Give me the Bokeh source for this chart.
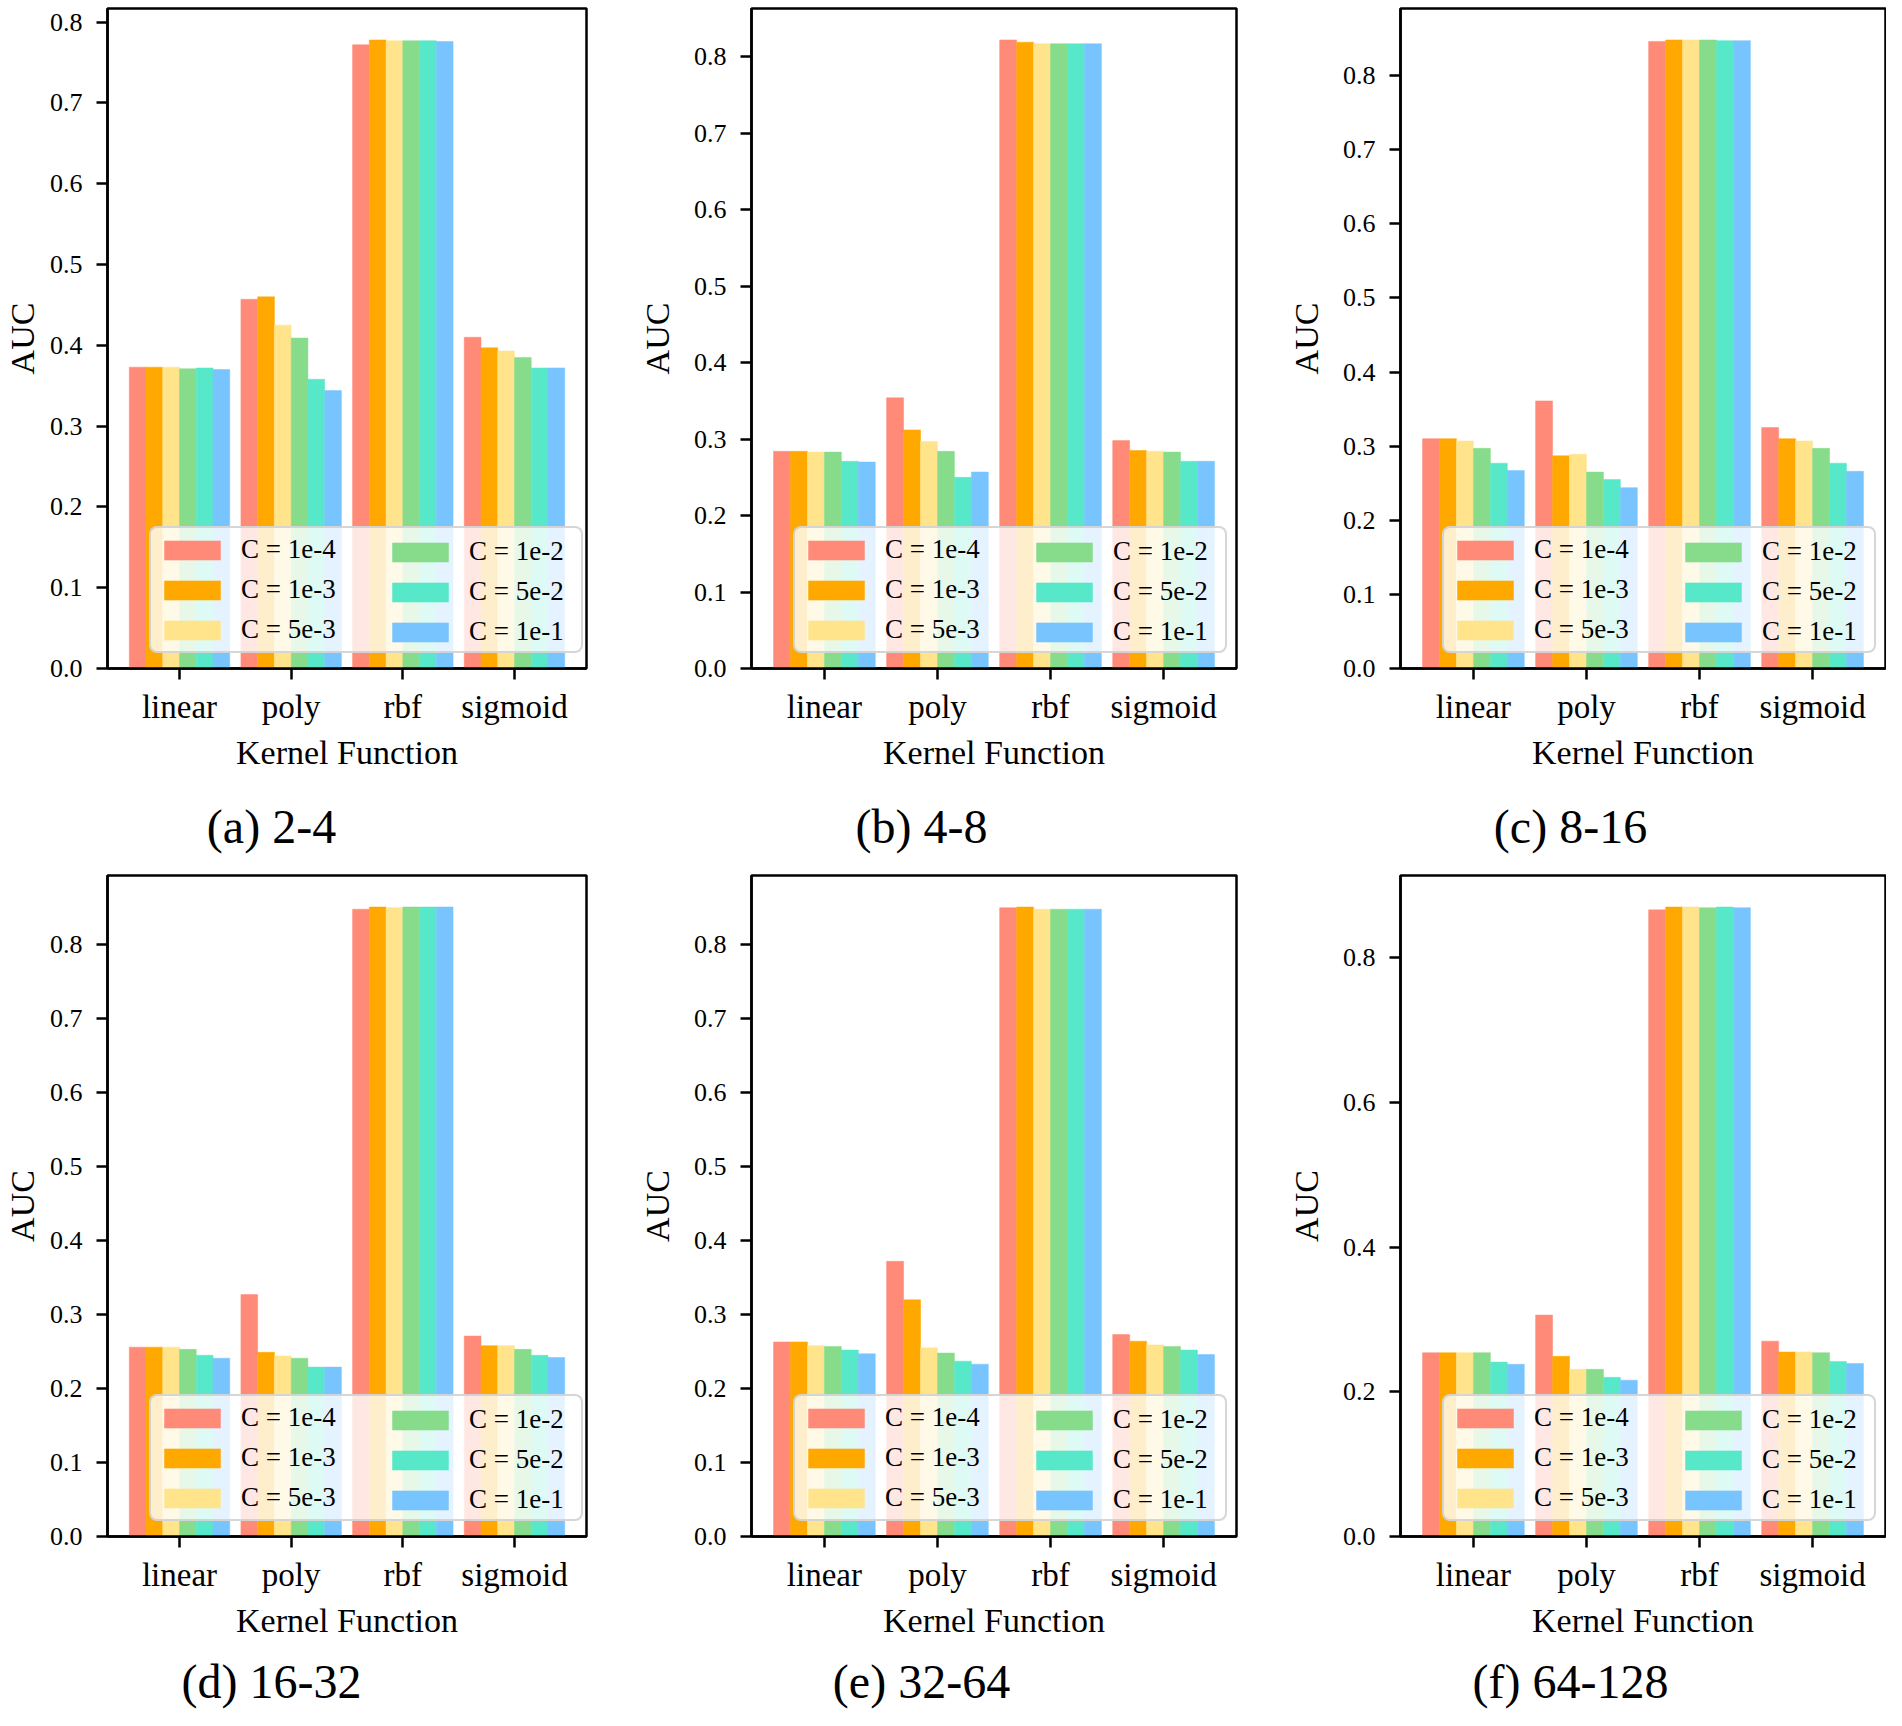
from bokeh.plotting import figure
from bokeh.layouts import column, row
from bokeh.models import Range1d, FixedTicker, PrintfTickFormatter, Label, Legend, LegendItem
from bokeh.embed import file_html
from bokeh.resources import INLINE

FONT = "Liberation Serif"

kernels = ["linear", "poly", "rbf", "sigmoid"]
c_labels = ["C = 1e-4", "C = 1e-3", "C = 5e-3", "C = 1e-2", "C = 5e-2", "C = 1e-1"]
colors = ["#FF8A78", "#FFA800", "#FFE48C", "#86DC8A", "#56E8C8", "#78C4FF"]

captions = ["(a) 2-4", "(b) 4-8", "(c) 8-16", "(d) 16-32", "(e) 32-64", "(f) 64-128"]

# AUC per kernel (rows: linear, poly, rbf, sigmoid), per C value (columns)
auc_2_4 = [
    [0.373, 0.373, 0.373, 0.371, 0.372, 0.370],
    [0.457, 0.460, 0.425, 0.409, 0.358, 0.344],
    [0.772, 0.778, 0.777, 0.777, 0.777, 0.776],
    [0.410, 0.397, 0.393, 0.385, 0.372, 0.372],
]
auc_4_8 = [
    [0.284, 0.284, 0.283, 0.283, 0.271, 0.270],
    [0.354, 0.312, 0.297, 0.284, 0.250, 0.257],
    [0.822, 0.819, 0.817, 0.817, 0.817, 0.817],
    [0.298, 0.285, 0.284, 0.283, 0.271, 0.271],
]
auc_8_16 = [
    [0.310, 0.310, 0.307, 0.297, 0.277, 0.267],
    [0.361, 0.287, 0.289, 0.265, 0.255, 0.244],
    [0.846, 0.848, 0.848, 0.848, 0.847, 0.847],
    [0.325, 0.310, 0.307, 0.297, 0.277, 0.266],
]
auc_16_32 = [
    [0.256, 0.256, 0.256, 0.253, 0.245, 0.241],
    [0.327, 0.249, 0.244, 0.241, 0.229, 0.229],
    [0.848, 0.851, 0.850, 0.851, 0.851, 0.851],
    [0.271, 0.258, 0.258, 0.253, 0.245, 0.242],
]
auc_32_64 = [
    [0.263, 0.263, 0.258, 0.257, 0.252, 0.247],
    [0.372, 0.320, 0.255, 0.248, 0.237, 0.233],
    [0.850, 0.851, 0.848, 0.848, 0.848, 0.848],
    [0.273, 0.264, 0.259, 0.257, 0.252, 0.246],
]
auc_64_128 = [
    [0.254, 0.254, 0.254, 0.254, 0.241, 0.238],
    [0.306, 0.249, 0.231, 0.231, 0.220, 0.216],
    [0.866, 0.870, 0.870, 0.869, 0.870, 0.869],
    [0.270, 0.255, 0.255, 0.254, 0.242, 0.239],
]

yticks_01 = [0.0, 0.1, 0.2, 0.3, 0.4, 0.5, 0.6, 0.7, 0.8]
yticks_02 = [0.0, 0.2, 0.4, 0.6, 0.8]

BAR_W = 0.15


def style_legend(leg, label_width, boxed):
    leg.padding = 6
    leg.spacing = 9
    leg.margin = 0
    leg.glyph_width = 70
    leg.glyph_height = 24
    leg.label_standoff = 14
    leg.label_width = label_width
    leg.label_text_font = FONT
    leg.label_text_font_size = "27px"
    leg.label_text_color = "black"
    leg.background_fill_color = "white"
    leg.border_line_color = "#cccccc"
    leg.border_line_width = 2
    if "border_radius" in Legend.properties():
        leg.border_radius = 8
    if boxed:
        leg.background_fill_alpha = 0.8
        leg.border_line_alpha = 0.8
    else:
        leg.background_fill_alpha = 0.0
        leg.border_line_alpha = 0.0


def make_panel(values, yticks, width, height, bl, br, bt, bb, ylab_standoff):
    n = len(c_labels)
    lo = -n / 2 * BAR_W
    hi = (len(kernels) - 1) + n / 2 * BAR_W
    pad = 0.05 * (hi - lo)
    ymax = max(max(r) for r in values)
    p = figure(width=width, height=height,
               x_range=Range1d(lo - pad, hi + pad),
               y_range=Range1d(0, 1.05 * ymax),
               output_backend="svg", toolbar_location=None,
               min_border_left=bl, min_border_right=br,
               min_border_top=bt, min_border_bottom=bb)
    p.background_fill_color = "white"
    p.border_fill_color = "white"
    p.xgrid.visible = False
    p.ygrid.visible = False
    p.outline_line_color = "black"
    p.outline_line_width = 2.5
    p.outline_line_alpha = 1.0

    renderers = []
    for j in range(n):
        xs = [k + (j - (n - 1) / 2) * BAR_W for k in range(len(kernels))]
        tops = [values[k][j] for k in range(len(kernels))]
        r = p.vbar(x=xs, top=tops, bottom=0, width=BAR_W, fill_color=colors[j],
                   line_color=colors[j], line_width=0.5)
        renderers.append(r)

    for ax in (p.xaxis, p.yaxis):
        ax.axis_line_color = "black"
        ax.axis_line_width = 2.5
        ax.major_tick_line_color = "black"
        ax.major_tick_line_width = 2.5
        ax.major_tick_out = 11
        ax.major_tick_in = 0
        ax.minor_tick_line_color = None
        ax.axis_label_text_font = FONT
        ax.axis_label_text_font_style = "normal"
        ax.axis_label_text_font_size = "34px"
        ax.axis_label_text_color = "black"
        ax.major_label_text_font = FONT
        ax.major_label_text_color = "black"

    p.xaxis.ticker = FixedTicker(ticks=list(range(len(kernels))))
    p.xaxis.major_label_overrides = {i: k for i, k in enumerate(kernels)}
    p.xaxis.major_label_text_font_size = "33px"
    p.xaxis.major_label_standoff = 9
    p.xaxis.axis_label = "Kernel Function"
    p.xaxis.axis_label_standoff = 6

    p.yaxis.ticker = FixedTicker(ticks=yticks)
    p.yaxis.formatter = PrintfTickFormatter(format="%.1f")
    p.yaxis.major_label_text_font_size = "26px"
    p.yaxis.major_label_standoff = 14
    p.yaxis.axis_label = "AUC"
    p.yaxis.axis_label_standoff = ylab_standoff

    half = n // 2
    leg_a = Legend(items=[LegendItem(label=c_labels[j], renderers=[renderers[j]]) for j in range(half)],
                   location=(42, 15))
    style_legend(leg_a, 334, True)
    leg_b = Legend(items=[LegendItem(label=c_labels[j], renderers=[renderers[j]]) for j in range(half, n)],
                   location=(272, 15))
    style_legend(leg_b, 97, False)
    p.add_layout(leg_a, "center")
    p.add_layout(leg_b, "center")
    return p


def make_caption(text, width, height, cx, base):
    q = figure(width=width, height=height, x_range=Range1d(0, width), y_range=Range1d(0, height),
               x_axis_type=None, y_axis_type=None, output_backend="svg", toolbar_location=None,
               min_border_left=0, min_border_right=0, min_border_top=0, min_border_bottom=0)
    q.outline_line_color = None
    q.background_fill_color = "white"
    q.border_fill_color = "white"
    q.add_layout(Label(text=text, x=cx, y=base, text_align="center", text_baseline="alphabetic",
                       text_font=FONT, text_font_size="48px", text_color="black"))
    return q


datasets = [auc_2_4, auc_4_8, auc_8_16, auc_16_32, auc_32_64, auc_64_128]
ytick_sets = [yticks_01, yticks_01, yticks_01, yticks_01, yticks_01, yticks_02]

col_w = [612, 650, 624]
col_bl = [101, 139, 138]
col_br = [26, 26, 1]
col_ls = [6, 15, 15]
row_h = [789, 788]
row_bt = [8, 9]
row_bb = [121, 118]
cap_h = [77, 56]
cap_base = [40, 29]
CAP_DX = 170

rows = []
for r in range(2):
    panels, caps = [], []
    for c in range(3):
        i = r * 3 + c
        panels.append(make_panel(datasets[i], ytick_sets[i], col_w[c], row_h[r],
                                 col_bl[c], col_br[c], row_bt[r], row_bb[r], col_ls[c]))
        caps.append(make_caption(captions[i], col_w[c], cap_h[r], col_bl[c] + CAP_DX, cap_base[r]))
    rows.append(row(*panels))
    rows.append(row(*caps))

layout = column(*rows)
open("out.html", "w").write(file_html(layout, INLINE))
